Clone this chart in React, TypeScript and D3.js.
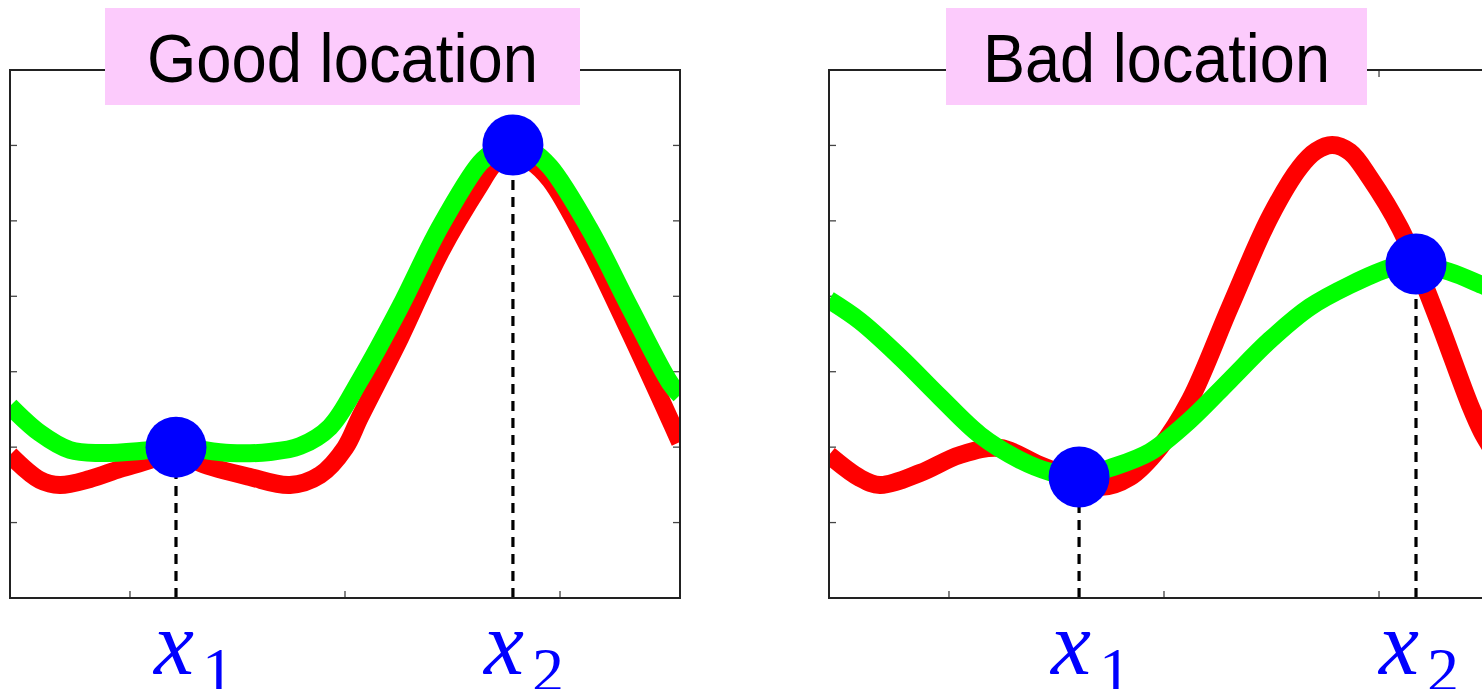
import React from 'react';
import * as d3 from 'd3';

// ---- data ----
const panelTitles = ['Good location', 'Bad location'];
const xTickValues = [-1, 0, 1];
const yTickValues = [1, 2, 3, 4, 5, 6];
const sampleSubscripts = ['1', '2'];

// true objective (red) and model (green), left panel
const goodTrue: [number, number][] = [
  [-1.558, 1.896], [-1.419, 1.564], [-1.326, 1.498], [-1.186, 1.578], [-1.047, 1.71],
  [-0.907, 1.83], [-0.786, 1.96], [-0.674, 1.79], [-0.442, 1.604], [-0.256, 1.498],
  [-0.116, 1.631], [0.0, 1.989], [0.07, 2.4], [0.256, 3.447], [0.442, 4.574],
  [0.628, 5.475], [0.698, 5.767], [0.781, 5.873], [0.861, 5.793], [0.954, 5.542],
  [1.14, 4.614], [1.326, 3.513], [1.512, 2.36], [1.558, 2.068],
];
const goodModel: [number, number][] = [
  [-1.558, 2.545], [-1.419, 2.187], [-1.279, 1.962], [-1.14, 1.922], [-0.953, 1.949],
  [-0.786, 2.002], [-0.535, 1.922], [-0.349, 1.936], [-0.209, 2.015], [-0.07, 2.267],
  [0.07, 2.89], [0.256, 3.858], [0.442, 4.919], [0.628, 5.767], [0.698, 5.926],
  [0.781, 6.006], [0.861, 5.94], [0.954, 5.714], [1.14, 4.879], [1.326, 3.845],
  [1.512, 2.85], [1.558, 2.691],
];
const goodSamples: [number, number][] = [[-0.786, 2.0], [0.781, 6.006]];

// right panel
const badTrue: [number, number][] = [
  [-1.558, 1.896], [-1.414, 1.591], [-1.321, 1.498], [-1.135, 1.657], [-0.949, 1.896],
  [-0.763, 1.989], [-0.577, 1.763], [-0.395, 1.564], [-0.298, 1.472], [-0.158, 1.604],
  [-0.018, 2.002], [0.121, 2.625], [0.307, 3.858], [0.493, 5.051], [0.633, 5.714],
  [0.707, 5.926], [0.782, 6.006], [0.865, 5.913], [0.958, 5.568], [1.098, 4.905],
  [1.172, 4.428], [1.284, 3.62], [1.423, 2.558], [1.479, 2.2], [1.558, 1.83],
];
const badModel: [number, number][] = [
  [-1.558, 3.951], [-1.414, 3.672], [-1.228, 3.195], [-1.042, 2.665], [-0.856, 2.161],
  [-0.67, 1.83], [-0.53, 1.67], [-0.395, 1.604], [-0.251, 1.723], [-0.065, 1.936],
  [0.121, 2.36], [0.307, 2.89], [0.493, 3.42], [0.679, 3.858], [0.865, 4.15],
  [1.051, 4.375], [1.172, 4.428], [1.33, 4.322], [1.479, 4.15], [1.558, 4.057],
];
const badSamples: [number, number][] = [[-0.395, 1.604], [1.172, 4.428]];

// ---- layout ----
const W = 1482;
const H = 689;
const TOP = 70;
const BOTTOM = 598;
const PW = 670;

const panels = [
  { left: 10, title: panelTitles[0], titleW: 391, boxW: 475, boxCx: 342.5, red: goodTrue, green: goodModel, dots: goodSamples, labelShift: [-22, -29] },
  { left: 829, title: panelTitles[1], titleW: 347, boxW: 421, boxCx: 1156.5, red: badTrue, green: badModel, dots: badSamples, labelShift: [-28, -37] },
];

const mathFont = "'Liberation Serif', 'DejaVu Serif', 'Times New Roman', serif";

function Panel({ p, i }: { p: any; i: number }) {
  const x = d3.scaleLinear().domain([-1.558, 1.558]).range([p.left, p.left + PW]);
  const y = d3.scaleLinear().domain([0, 7]).range([BOTTOM, TOP]);
  const line = d3
    .line<[number, number]>()
    .x((d) => x(d[0]))
    .y((d) => y(d[1]))
    .curve(d3.curveCatmullRom.alpha(0.5));
  const tickLen = 7;
  const tickColor = '#444';
  return (
    <g>
      <defs>
        <clipPath id={`clip${i}`}>
          <rect x={p.left} y={TOP} width={PW} height={BOTTOM - TOP} />
        </clipPath>
      </defs>
      {yTickValues.map((v) => (
        <g key={`y${v}`}>
          <line x1={p.left} x2={p.left + tickLen} y1={y(v)} y2={y(v)} stroke={tickColor} strokeWidth={1.3} />
          <line x1={p.left + PW} x2={p.left + PW - tickLen} y1={y(v)} y2={y(v)} stroke={tickColor} strokeWidth={1.3} />
        </g>
      ))}
      {xTickValues.map((v) => (
        <g key={`x${v}`}>
          <line x1={x(v)} x2={x(v)} y1={BOTTOM} y2={BOTTOM - tickLen} stroke={tickColor} strokeWidth={1.3} />
          <line x1={x(v)} x2={x(v)} y1={TOP} y2={TOP + tickLen} stroke={tickColor} strokeWidth={1.3} />
        </g>
      ))}
      <g clipPath={`url(#clip${i})`}>
        <path d={line(p.red) || ''} stroke="#ff0000" strokeWidth={18} fill="none" strokeLinejoin="round" />
        <path d={line(p.green) || ''} stroke="#00ff00" strokeWidth={18} fill="none" strokeLinejoin="round" />
      </g>
      {p.dots.map((d: [number, number], k: number) => (
        <line key={`dl${k}`} x1={x(d[0])} x2={x(d[0])} y1={BOTTOM} y2={y(d[1])} stroke="#000" strokeWidth={3.2} strokeDasharray="10 7" />
      ))}
      {p.dots.map((d: [number, number], k: number) => (
        <circle key={`dc${k}`} cx={x(d[0])} cy={y(d[1])} r={30.5} fill="#0000ff" />
      ))}
      <rect x={p.left} y={TOP} width={PW} height={BOTTOM - TOP} fill="none" stroke="#222" strokeWidth={2} />
      <rect x={p.boxCx - p.boxW / 2} y={8} width={p.boxW} height={97} fill="#fccbfc" />
      <text
        x={p.boxCx}
        y={82}
        textAnchor="middle"
        fontSize={68}
        style={{ fontFamily: "'Liberation Sans', Arial, sans-serif" }}
        textLength={p.titleW}
        lengthAdjust="spacingAndGlyphs"
        fill="#000"
      >
        {p.title}
      </text>
      {p.dots.map((d: [number, number], k: number) => (
        <text
          key={`lb${k}`}
          x={x(d[0]) + p.labelShift[k]}
          y={674}
          fill="#0000ff"
          style={{ fontFamily: mathFont, fontStyle: 'italic' }}
          fontSize={90}
        >
          x
          <tspan style={{ fontStyle: 'normal' }} fontSize={64} dx={8} dy={18}>
            {sampleSubscripts[k]}
          </tspan>
        </text>
      ))}
    </g>
  );
}

export default function App() {
  return (
    <svg
      width={W}
      height={H}
      style={{ position: 'absolute', left: 0, top: 0, display: 'block', background: '#fff' }}
    >
      <rect x={0} y={0} width={W} height={H} fill="#fff" />
      {panels.map((p, i) => (
        <Panel key={i} p={p} i={i} />
      ))}
    </svg>
  );
}
